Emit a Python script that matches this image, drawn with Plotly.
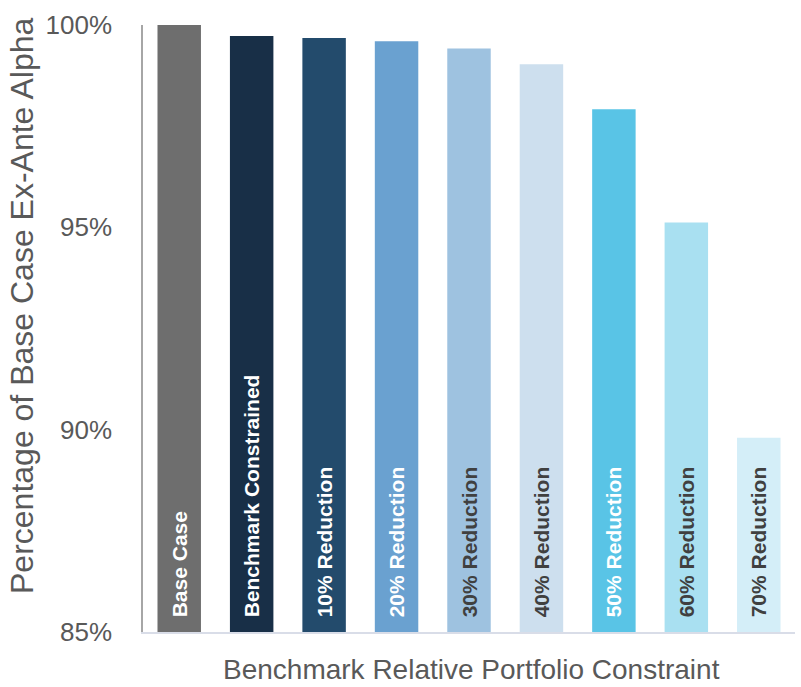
import plotly.graph_objects as go

# Scenario categories and their share of base-case ex-ante alpha (%)
categories = [
    "Base Case",
    "Benchmark Constrained",
    "10% Reduction",
    "20% Reduction",
    "30% Reduction",
    "40% Reduction",
    "50% Reduction",
    "60% Reduction",
    "70% Reduction",
]
alpha_pct = [100.0, 99.73, 99.68, 99.60, 99.42, 99.03, 97.92, 95.12, 89.80]

bar_colors = [
    "#6e6e6e", "#182f47", "#234b6c", "#6aa1d0", "#9ec2e0",
    "#cddfee", "#59c4e6", "#a9e0f1", "#d4eef8",
]
label_colors = [
    "#ffffff", "#ffffff", "#ffffff", "#ffffff", "#404040",
    "#404040", "#ffffff", "#404040", "#404040",
]

y_floor = 85
y_ticks = [85, 90, 95, 100]
y_tick_text = ["85%", "90%", "95%", "100%"]

FONT = "Liberation Sans, Arial, sans-serif"
GREY = "#595959"
PAD = "\u00a0\u00a0"

# Bars rise from the axis floor (85%) up to each scenario's value
fig = go.Figure(
    go.Bar(
        x=categories,
        y=[v - y_floor for v in alpha_pct],
        base=y_floor,
        marker=dict(color=bar_colors, line=dict(width=0)),
        text=[PAD + c for c in categories],
        textposition="inside",
        insidetextanchor="start",
        textangle=-90,
        textfont=dict(family=FONT, size=21, color=label_colors, weight="bold"),
        hoverinfo="skip",
    )
)

fig.update_layout(
    width=801,
    height=687,
    margin=dict(l=143, r=6, t=25, b=55),
    paper_bgcolor="white",
    plot_bgcolor="white",
    bargap=0.4,
    showlegend=False,
    font=dict(family=FONT, color=GREY),
    xaxis=dict(
        showticklabels=False,
        ticks="",
        showgrid=False,
        zeroline=False,
        showline=True,
        linecolor="#d9dde8",
        linewidth=1.5,
    ),
    yaxis=dict(
        range=[y_floor, 100],
        tickmode="array",
        tickvals=y_ticks,
        ticktext=y_tick_text,
        tickfont=dict(family=FONT, size=26, color=GREY),
        ticks="",
        ticklabelstandoff=24,
        showgrid=False,
        zeroline=False,
        showline=True,
        linecolor="#a6a6a6",
        linewidth=1.5,
    ),
    annotations=[
        dict(
            text="Percentage of Base Case Ex-Ante Alpha",
            xref="paper", yref="paper",
            x=-0.1856, y=0.5387,
            xanchor="center", yanchor="middle",
            textangle=-90,
            showarrow=False,
            font=dict(family=FONT, size=32, color=GREY),
        ),
        dict(
            text="Benchmark Relative Portfolio Constraint",
            xref="paper", yref="paper",
            x=0.5046, y=-0.0626,
            xanchor="center", yanchor="middle",
            showarrow=False,
            font=dict(family=FONT, size=28, color=GREY),
        ),
    ],
)

fig.write_html("out.html")
